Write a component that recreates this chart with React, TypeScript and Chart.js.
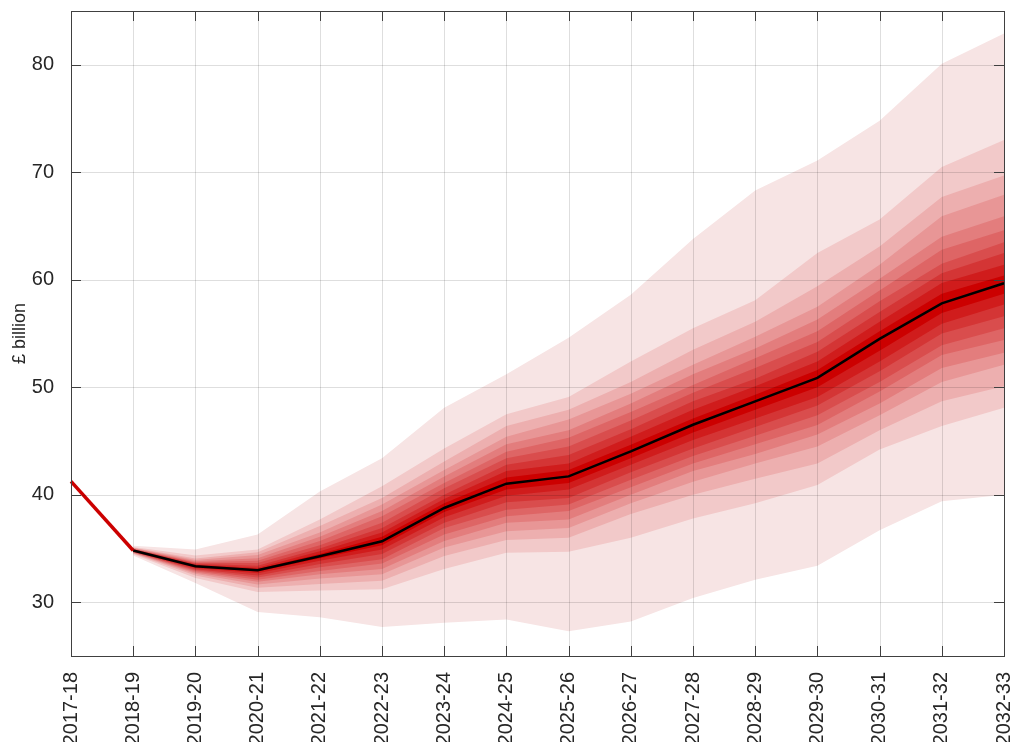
import React, { useEffect, useRef } from "react";
import { Chart, registerables } from "chart.js";

Chart.register(...registerables);

const years = [
  "2017-18", "2018-19", "2019-20", "2020-21", "2021-22", "2022-23", "2023-24", "2024-25",
  "2025-26", "2026-27", "2027-28", "2028-29", "2029-30", "2030-31", "2031-32", "2032-33",
];

const yTicks = [30, 40, 50, 60, 70, 80];

const outturn = [41.24, 34.81, null, null, null, null, null, null, null, null, null, null, null, null, null, null];
const median = [null, 34.81, 33.35, 32.98, 34.28, 35.67, 38.77, 41.03, 41.71, 44.03, 46.51, 48.69, 50.87, 54.5, 57.81, 59.67];

// Upper edges of fan bands, innermost (1) to outermost (10)
const upper1 = [null, 34.84, 33.42, 33.1, 34.5, 36.1, 39.2, 41.6, 42.3, 44.65, 47.1, 49.3, 51.6, 55.2, 58.7, 60.4];
const upper2 = [null, 34.87, 33.5, 33.2, 34.75, 36.5, 39.6, 42.2, 42.9, 45.4, 47.9, 50.1, 52.4, 56.1, 59.7, 61.4];
const upper3 = [null, 34.9, 33.57, 33.4, 35.0, 36.9, 40.0, 42.8, 43.7, 46.1, 48.7, 50.8, 53.3, 57.0, 60.6, 62.5];
const upper4 = [null, 34.93, 33.65, 33.65, 35.3, 37.4, 40.6, 43.4, 44.5, 46.9, 49.5, 51.8, 54.2, 58.0, 61.5, 63.5];
const upper5 = [null, 34.96, 33.73, 33.85, 35.7, 38.0, 41.1, 44.0, 45.3, 47.7, 50.2, 52.7, 55.2, 59.0, 62.8, 64.6];
const upper6 = [null, 35.0, 33.82, 34.1, 36.1, 38.5, 41.7, 44.7, 46.0, 48.5, 51.2, 53.6, 56.3, 60.1, 64.0, 65.9];
const upper7 = [null, 35.04, 33.93, 34.4, 36.5, 39.1, 42.3, 45.4, 47.0, 49.4, 52.1, 54.7, 57.5, 61.4, 65.9, 67.9];
const upper8 = [null, 35.08, 34.08, 34.65, 37.1, 39.7, 43.1, 46.4, 47.9, 50.5, 53.5, 56.1, 59.4, 63.1, 67.7, 69.7];
const upper9 = [null, 35.13, 34.35, 34.9, 37.7, 40.8, 44.3, 47.5, 49.1, 52.4, 55.5, 58.1, 62.5, 65.6, 70.5, 73.0];
const upper10 = [null, 35.25, 34.9, 36.3, 40.3, 43.4, 48.1, 51.2, 54.6, 58.6, 63.8, 68.3, 71.1, 74.8, 80.1, 82.9];

// Lower edges of fan bands, innermost (1) to outermost (10)
const lower1 = [null, 34.78, 33.27, 32.85, 34.1, 35.3, 38.4, 40.5, 41.1, 43.4, 45.8, 47.9, 50.0, 53.4, 56.9, 58.7];
const lower2 = [null, 34.75, 33.18, 32.7, 33.85, 34.9, 37.9, 39.9, 40.5, 42.8, 45.1, 47.1, 49.1, 52.4, 55.9, 57.7];
const lower3 = [null, 34.72, 33.08, 32.5, 33.55, 34.5, 37.4, 39.3, 39.7, 42.1, 44.3, 46.3, 48.3, 51.5, 55.0, 56.6];
const lower4 = [null, 34.69, 32.98, 32.3, 33.25, 34.0, 36.9, 38.6, 39.1, 41.4, 43.6, 45.5, 47.4, 50.5, 53.9, 55.5];
const lower5 = [null, 34.66, 32.88, 32.1, 32.9, 33.6, 36.3, 38.0, 38.5, 40.7, 42.9, 44.7, 46.5, 49.6, 53.0, 54.4];
const lower6 = [null, 34.62, 32.77, 31.9, 32.6, 33.1, 35.7, 37.4, 37.7, 40.0, 42.2, 43.8, 45.6, 48.5, 51.8, 53.2];
const lower7 = [null, 34.58, 32.64, 31.65, 32.2, 32.6, 35.1, 36.6, 36.9, 39.2, 41.2, 42.9, 44.5, 47.4, 50.5, 52.1];
const lower8 = [null, 34.53, 32.48, 31.35, 31.7, 32.0, 34.3, 35.8, 36.0, 38.2, 40.0, 41.5, 42.9, 46.0, 48.7, 50.1];
const lower9 = [null, 34.47, 32.25, 30.95, 31.1, 31.2, 33.1, 34.6, 34.7, 36.0, 37.8, 39.2, 40.9, 44.2, 46.4, 48.1];
const lower10 = [null, 34.35, 31.8, 29.1, 28.6, 27.7, 28.1, 28.4, 27.3, 28.2, 30.4, 32.1, 33.4, 36.7, 39.4, 40.0];

const bandUppers = [upper1, upper2, upper3, upper4, upper5, upper6, upper7, upper8, upper9, upper10];
const bandLowers = [lower1, lower2, lower3, lower4, lower5, lower6, lower7, lower8, lower9, lower10];

// innermost -> outermost
const bandColors = [
  "#cc0000", "#d01c1c", "#d43535", "#d94d4d", "#de6565",
  "#e37d7d", "#e89696", "#edafaf", "#f2c9c9", "#f7e4e4",
];

const FONT = "'Liberation Sans', Arial, Helvetica, sans-serif";
const TEXT = "#262626";

const overlayPlugin = {
  id: "matlabOverlay",
  afterDatasetsDraw(chart: any) {
    const { ctx, chartArea, scales } = chart;
    const { left, right, top, bottom } = chartArea;
    const xs = scales.x;
    const ys = scales.y;
    ctx.save();
    // grid
    ctx.strokeStyle = "rgba(0,0,0,0.13)";
    ctx.lineWidth = 1;
    ctx.beginPath();
    for (let i = 0; i < years.length; i++) {
      const px = Math.round(xs.getPixelForTick(i)) + 0.5;
      ctx.moveTo(px, top);
      ctx.lineTo(px, bottom);
    }
    yTicks.forEach((v) => {
      const py = Math.round(ys.getPixelForValue(v)) + 0.5;
      ctx.moveTo(left, py);
      ctx.lineTo(right, py);
    });
    ctx.stroke();
    // inner tick marks
    ctx.strokeStyle = "#404040";
    ctx.beginPath();
    for (let i = 0; i < years.length; i++) {
      const px = Math.round(xs.getPixelForTick(i)) + 0.5;
      ctx.moveTo(px, top);
      ctx.lineTo(px, top + 10);
      ctx.moveTo(px, bottom);
      ctx.lineTo(px, bottom - 10);
    }
    yTicks.forEach((v) => {
      const py = Math.round(ys.getPixelForValue(v)) + 0.5;
      ctx.moveTo(left, py);
      ctx.lineTo(left + 10, py);
      ctx.moveTo(right, py);
      ctx.lineTo(right - 10, py);
    });
    ctx.stroke();
    // box
    ctx.strokeStyle = "#404040";
    ctx.strokeRect(Math.round(left) + 0.5, Math.round(top) + 0.5, Math.round(right - left), Math.round(bottom - top));
    ctx.restore();
  },
};

export default function App() {
  const canvasRef = useRef<HTMLCanvasElement | null>(null);

  useEffect(() => {
    document.body.style.margin = "0";
    const canvas = canvasRef.current;
    if (!canvas) return;

    const datasets: any[] = [
      {
        label: "Outturn",
        data: outturn,
        borderColor: "#cc0000",
        borderWidth: 3.5,
        pointRadius: 0,
        fill: false,
        spanGaps: false,
      },
      {
        label: "Median",
        data: median,
        borderColor: "#000000",
        borderWidth: 2.5,
        pointRadius: 0,
        fill: false,
      },
    ];
    for (let k = 0; k < bandUppers.length; k++) {
      const upperIndex = datasets.length;
      datasets.push({
        label: "upper" + (k + 1),
        data: bandUppers[k],
        borderWidth: 0,
        borderColor: "rgba(0,0,0,0)",
        backgroundColor: bandColors[k],
        pointRadius: 0,
        fill: { target: upperIndex + 1 },
      });
      datasets.push({
        label: "lower" + (k + 1),
        data: bandLowers[k],
        borderWidth: 0,
        borderColor: "rgba(0,0,0,0)",
        backgroundColor: bandColors[k],
        pointRadius: 0,
        fill: false,
      });
    }

    const chart = new Chart(canvas, {
      type: "line",
      data: { labels: years, datasets },
      options: {
        responsive: false,
        animation: false,
        devicePixelRatio: 1,
        layout: { padding: { left: 0, top: 11, right: 11, bottom: 0 } },
        plugins: {
          legend: { display: false },
          tooltip: { enabled: false },
        },
        elements: { line: { tension: 0 } },
        scales: {
          x: {
            type: "category",
            offset: false,
            grid: { display: false, offset: false },
            border: { display: false },
            ticks: {
              autoSkip: false,
              minRotation: 90,
              maxRotation: 90,
              padding: 8,
              color: TEXT,
              font: { family: FONT, size: 20 },
            },
            afterFit: (scale: any) => {
              scale.height = 86;
              scale.paddingLeft = 0;
              scale.paddingRight = 0;
            },
          },
          y: {
            min: 25,
            max: 85,
            grid: { display: false },
            border: { display: false },
            afterBuildTicks: (scale: any) => {
              scale.ticks = yTicks.map((v) => ({ value: v }));
            },
            ticks: {
              padding: 9,
              color: TEXT,
              font: { family: FONT, size: 20 },
            },
            title: {
              display: true,
              text: "£ billion",
              color: TEXT,
              font: { family: FONT, size: 18 },
              padding: { top: 9, bottom: 0 },
            },
            afterFit: (scale: any) => {
              scale.width = 71;
              scale.paddingTop = 0;
              scale.paddingBottom = 0;
            },
          },
        },
      },
      plugins: [overlayPlugin],
    });

    return () => {
      chart.destroy();
    };
  }, []);

  return (
    <div style={{ position: "fixed", left: 0, top: 0, width: 1015, height: 742, background: "#fff" }}>
      <canvas ref={canvasRef} width={1015} height={742} style={{ width: 1015, height: 742, display: "block" }} />
    </div>
  );
}
